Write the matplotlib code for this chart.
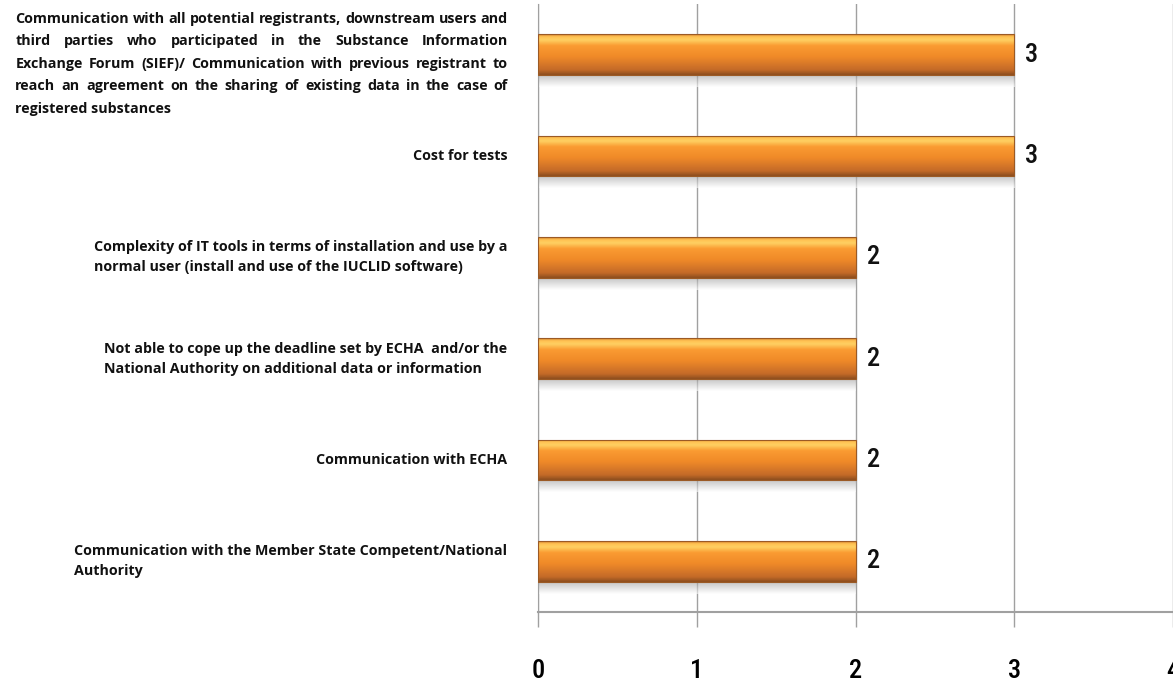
import numpy as np
import matplotlib.pyplot as plt
from matplotlib.colors import LinearSegmentedColormap

# data, top to bottom
categories = [
    "Communication with all potential registrants, downstream users and\n"
    "third parties who participated in the Substance Information\n"
    "Exchange Forum (SIEF)/ Communication with previous registrant to\n"
    "reach an agreement on the sharing of existing data in the case of\n"
    "registered substances",
    "Cost for tests",
    "Complexity of IT tools in terms of installation and use by a\n"
    "normal user (install and use of the IUCLID software)",
    "Not able to cope up the deadline set by ECHA  and/or the\n"
    "National Authority on additional data or information",
    "Communication with ECHA",
    "Communication with the Member State Competent/National\n"
    "Authority",
]
values = [3, 3, 2, 2, 2, 2]
x_ticks = [0, 1, 2, 3, 4]

label_font = "Open Sans"
num_font = dict(family=["Roboto Condensed", "Roboto", "DejaVu Sans"])

fig = plt.figure(figsize=(11.73, 6.85), dpi=100)
ax = fig.add_axes([538 / 1173, 1 - 612 / 685, 635 / 1173, 608 / 685])

n = len(values)
y_pos = np.arange(n)[::-1]
bar_h = 0.4

ax.set_xlim(0, 4)
ax.set_ylim(-0.5, n - 0.5)

orange = LinearSegmentedColormap.from_list(
    "bar", [(0.0, "#8f4f1f"), (0.12, "#c46a28"), (0.45, "#f08a28"),
            (0.72, "#fa9b32"), (0.86, "#ffd062"), (0.94, "#ffc252"),
            (1.0, "#dd8a35")])
shade = LinearSegmentedColormap.from_list("shade", ["#ffffff", "#9a9a9a"])

for y, v in zip(y_pos, values):
    # soft shadow under bar
    grad = np.linspace(0, 1, 60).reshape(-1, 1)
    ax.imshow(grad, cmap=shade, extent=(0, v, y - bar_h / 2 - 0.12, y - bar_h / 2),
              aspect="auto", origin="lower", zorder=1.5, alpha=0.6)
    bar = ax.barh(y, v, height=bar_h, color="none", edgecolor="#9b5a25",
                  linewidth=0.8, zorder=3)[0]
    img = ax.imshow(grad, cmap=orange, extent=(0, v, y - bar_h / 2, y + bar_h / 2),
                    aspect="auto", origin="lower", zorder=2)
    img.set_clip_path(bar)
    ax.text(v + 0.07, y, str(v), va="center", ha="left", fontsize=19,
            fontweight="medium", color="#111111", **num_font)

ax.set_yticks([])
ax.set_xticks(x_ticks)
ax.set_xticklabels([str(t) for t in x_ticks], fontsize=19, fontweight="medium",
                   **num_font)
ax.tick_params(axis="x", length=11, width=1, color="#a0a0a0", pad=23)
ax.grid(axis="x", color="#a0a0a0", linewidth=1, zorder=0)
ax.set_axisbelow(True)
for s in ["top", "right"]:
    ax.spines[s].set_visible(False)
ax.spines["left"].set_color("#a0a0a0")
ax.spines["bottom"].set_color("#a0a0a0")
ax.spines["bottom"].set_linewidth(1.5)

label_kw = dict(fontsize=10.3, fontweight="bold", family=label_font, color="#111111")
right_px = 508

# category labels on the left (first one is justified)
renderer = fig.canvas.get_renderer()
for i, (y, lab) in enumerate(zip(y_pos, categories)):
    if i > 0:
        ax.annotate(lab, xy=(0, y), xycoords="data", xytext=(-22, 0),
                    textcoords="offset points", ha="right", va="center",
                    multialignment="left", linespacing=1.55, **label_kw)
        continue
    lines = lab.split("\n")
    line_h = 22.5
    y0 = ax.transData.transform((0, y))[1]
    top = y0 + line_h * (len(lines) - 1) / 2 - 9
    widths = []
    for ln in lines:
        t = fig.text(0, 0, ln, **label_kw)
        widths.append(t.get_window_extent(renderer).width)
        t.remove()
    block_w = max(widths)
    left = right_px - block_w
    for k, ln in enumerate(lines):
        yy = (top - k * line_h) / 685
        words = ln.split(" ")
        if k == len(lines) - 1 or len(words) == 1:
            fig.text(left / 1173, yy, ln, va="center", ha="left", **label_kw)
            continue
        ww = []
        for w in words:
            t = fig.text(0, 0, w, **label_kw)
            ww.append(t.get_window_extent(renderer).width)
            t.remove()
        gap = (block_w - sum(ww)) / (len(words) - 1)
        xx = left
        for w, wpx in zip(words, ww):
            fig.text(xx / 1173, yy, w, va="center", ha="left", **label_kw)
            xx += wpx + gap

fig.savefig("out.png", dpi=100)
